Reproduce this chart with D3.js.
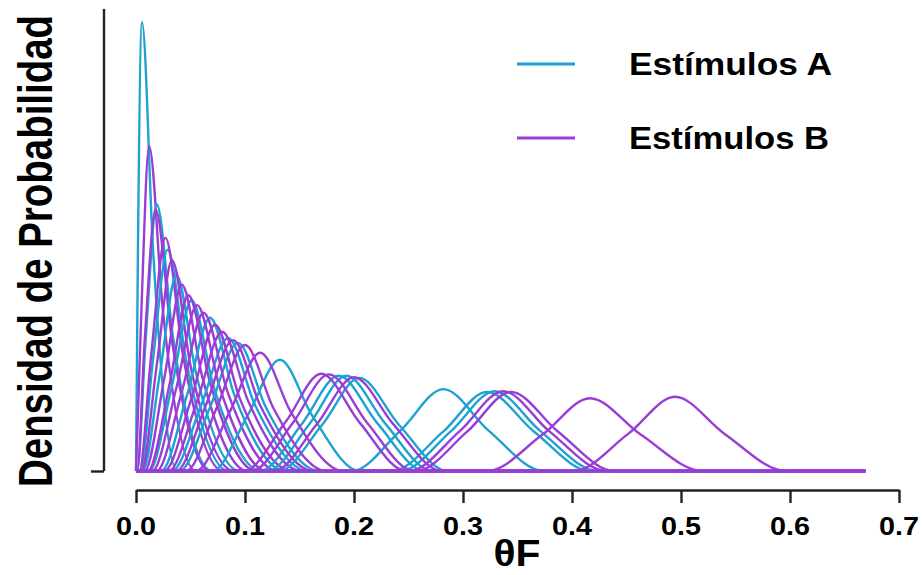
<!DOCTYPE html>
<html>
<head>
<meta charset="utf-8">
<script src="https://cdn.jsdelivr.net/npm/d3@7"></script>
<style>
  html, body { margin: 0; padding: 0; background: #ffffff; }
  svg { display: block; }
  text { font-family: "Liberation Sans", Arial, Helvetica, sans-serif; font-weight: bold; fill: #000; }
</style>
</head>
<body>
<svg id="chart" width="923" height="575"></svg>
<script>
// Posterior densities of θF, one curve per stimulus.
// Each curve: [left foot, left half-height, mode, right half-height, right foot, peak density]
const curvesA = [
  [0.000, 0.0018, 0.0055, 0.0155, 0.038, 64.1],
  [0.001, 0.009, 0.019, 0.034, 0.070, 38.1],
  [0.004, 0.0155, 0.029, 0.046, 0.085, 31.6],
  [0.006, 0.022, 0.037, 0.055, 0.095, 28.0],
  [0.012, 0.033, 0.051, 0.071, 0.115, 24.4],
  [0.023, 0.047, 0.068, 0.090, 0.137, 21.9],
  [0.033, 0.060, 0.0845, 0.109, 0.158, 19.0],
  [0.040, 0.068, 0.0935, 0.119, 0.168, 18.3],
  [0.070, 0.1025, 0.132, 0.1615, 0.205, 15.9],
  [0.1135, 0.1525, 0.186, 0.2215, 0.265, 13.6],
  [0.1205, 0.1595, 0.193, 0.2285, 0.272, 13.6],
  [0.131, 0.171, 0.205, 0.241, 0.286, 13.3],
  [0.198, 0.243, 0.282, 0.323, 0.374, 11.7],
  [0.235, 0.282, 0.322, 0.365, 0.417, 11.3],
  [0.2425, 0.289, 0.329, 0.371, 0.424, 11.4]
];
const curvesB = [
  [0.000, 0.005, 0.012, 0.0245, 0.055, 46.4],
  [0.001, 0.008, 0.018, 0.033, 0.068, 37.3],
  [0.003, 0.014, 0.027, 0.043, 0.080, 33.3],
  [0.005, 0.019, 0.033, 0.050, 0.090, 30.1],
  [0.008, 0.026, 0.042, 0.061, 0.102, 26.6],
  [0.011, 0.031, 0.048, 0.068, 0.110, 25.1],
  [0.015, 0.037, 0.056, 0.077, 0.120, 23.7],
  [0.019, 0.042, 0.062, 0.084, 0.130, 22.6],
  [0.026, 0.051, 0.0725, 0.095, 0.143, 20.9],
  [0.030, 0.056, 0.079, 0.103, 0.152, 19.9],
  [0.037, 0.064, 0.089, 0.114, 0.163, 18.7],
  [0.046, 0.074, 0.100, 0.126, 0.175, 18.0],
  [0.055, 0.086, 0.114, 0.142, 0.190, 16.9],
  [0.099, 0.137, 0.170, 0.205, 0.248, 13.9],
  [0.106, 0.144, 0.177, 0.212, 0.255, 13.8],
  [0.1265, 0.166, 0.200, 0.236, 0.2805, 13.4],
  [0.2505, 0.297, 0.337, 0.379, 0.432, 11.4],
  [0.257, 0.304, 0.344, 0.387, 0.439, 11.3],
  [0.322, 0.373, 0.4165, 0.463, 0.520, 10.4],
  [0.4015, 0.4515, 0.4945, 0.540, 0.5965, 10.6]
];
// Evaluation grid end for each group of curves
const gridEndA = 0.60;
const gridEndB = 0.669;

const xTicks = [0, 0.1, 0.2, 0.3, 0.4, 0.5, 0.6, 0.7];
const xTickLabels = ["0.0", "0.1", "0.2", "0.3", "0.4", "0.5", "0.6", "0.7"];
const legendLabels = ["Estímulos A", "Estímulos B"];
const xTitle = "θF";
const yTitle = "Densidad de Probabilidad";

const colorA = "#1ea2d0";
const colorB = "#9a3dd6";
const yAxisTop = 66;

const svg = d3.select("#chart");

const x = d3.scaleLinear().domain([0, 0.7]).range([136, 899]);
const y = d3.scaleLinear().domain([0, 66]).range([471, 9]);

const line = d3.line()
  .x(d => x(d[0]))
  .y(d => y(d[1]))
  .curve(d3.curveMonotoneX);

function curvePoints(c, end) {
  const [fl, hl, m, hr, fr, p] = c;
  const pts = [];
  if (fl > 0) pts.push([0, 0]);
  pts.push([fl, 0], [hl, p / 2], [m, p], [hr, p / 2], [fr, 0], [end, 0]);
  return pts;
}

// Interleave the two groups so neither colour sits entirely on top
const order = [];
const n = Math.max(curvesA.length, curvesB.length);
for (let i = 0; i < n; i++) {
  if (i < curvesA.length) order.push({ c: curvesA[i], color: colorA, end: gridEndA });
  if (i < curvesB.length) order.push({ c: curvesB[i], color: colorB, end: gridEndB });
}

svg.append("g")
  .selectAll("path")
  .data(order)
  .join("path")
  .attr("d", d => line(curvePoints(d.c, d.end)))
  .attr("fill", "none")
  .attr("stroke", d => d.color)
  .attr("stroke-width", 2.4)
  .attr("stroke-linejoin", "round");

// x axis
const xAxis = svg.append("g")
  .attr("transform", "translate(0,490)")
  .call(d3.axisBottom(x).tickValues(xTicks).tickFormat(() => "").tickSize(13).tickSizeOuter(0));
xAxis.select(".domain").attr("stroke", "#222").attr("stroke-width", 2.4);
xAxis.selectAll(".tick line").attr("stroke", "#222").attr("stroke-width", 2.4);
xAxis.selectAll(".tick text").remove();

svg.append("g")
  .selectAll("text")
  .data(xTicks)
  .join("text")
  .attr("x", d => x(d))
  .attr("y", 535)
  .attr("text-anchor", "middle")
  .attr("font-size", 25)
  .attr("textLength", 40)
  .attr("lengthAdjust", "spacingAndGlyphs")
  .text((d, i) => xTickLabels[i]);

// y axis: plain line with a single tick at zero
const yAxis = svg.append("g")
  .attr("transform", "translate(104,0)")
  .call(d3.axisLeft(y).tickValues([0]).tickFormat(() => "").tickSize(13).tickSizeOuter(0));
yAxis.select(".domain").attr("d", `M0,${y(0)}V${y(yAxisTop)}`).attr("stroke", "#222").attr("stroke-width", 2.4);
yAxis.selectAll(".tick line").attr("stroke", "#222").attr("stroke-width", 2.4);

// titles
svg.append("text")
  .attr("x", 517)
  .attr("y", 566)
  .attr("text-anchor", "middle")
  .attr("font-size", 36)
  .attr("textLength", 47)
  .attr("lengthAdjust", "spacingAndGlyphs")
  .text(xTitle);

svg.append("text")
  .attr("transform", "translate(52,251) scale(1.28,1) rotate(-90)")
  .attr("text-anchor", "middle")
  .attr("font-size", 38)
  .attr("textLength", 472)
  .attr("lengthAdjust", "spacingAndGlyphs")
  .text(yTitle);

// legend
const legend = svg.append("g");
const legendColors = [colorA, colorB];
const legendY = [64, 138];
legendLabels.forEach((lab, i) => {
  legend.append("line")
    .attr("x1", 517).attr("x2", 575)
    .attr("y1", legendY[i]).attr("y2", legendY[i])
    .attr("stroke", legendColors[i])
    .attr("stroke-width", 3);
  legend.append("text")
    .attr("x", 629)
    .attr("y", legendY[i] + 11)
    .attr("font-size", 31)
    .attr("textLength", i === 0 ? 203 : 200)
    .attr("lengthAdjust", "spacingAndGlyphs")
    .text(lab);
});
</script>
</body>
</html>
